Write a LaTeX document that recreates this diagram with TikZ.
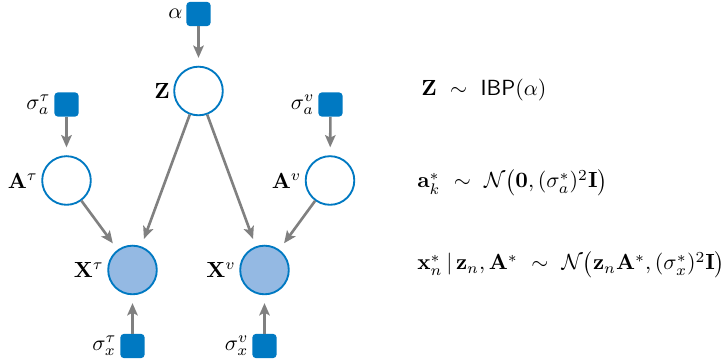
\documentclass[tikz,border=0pt]{standalone}
\usepackage{amsmath,amssymb}
\usetikzlibrary{arrows.meta}
\definecolor{pblue}{HTML}{0079C2}
\definecolor{pfill}{HTML}{94B9E3}
\definecolor{pgray}{HTML}{808080}
\begin{document}
\begin{tikzpicture}[x=0.4566pt,y=-0.4566pt,
  latent/.style={circle,draw=pblue,line width=0.85pt,fill=white,minimum size=22.2pt,inner sep=0pt},
  observed/.style={latent,fill=pfill},
  param/.style={rectangle,rounded corners=1.5pt,fill=pblue,minimum size=11pt,inner sep=0pt},
  lab/.style={label={[inner sep=0.6pt,label distance=0.8pt]left:#1}},
  edge/.style={draw=pgray,line width=1.2pt,-{Stealth[length=5.6pt,width=4.8pt,inset=1.2pt]},shorten >=3.6pt},
  eq/.style={anchor=base west,inner sep=0pt}]
\useasboundingbox (0,0) rectangle (724,364);
% nodes
\node[param,lab={$\alpha$}] (alpha) at (198.5,14) {};
\node[latent,lab={$\mathbf{Z}$}] (Z) at (198.5,91) {};
\node[param,lab={$\sigma_a^\tau$}] (sat) at (66.5,104.5) {};
\node[latent,lab={$\mathbf{A}^\tau$}] (At) at (66.5,180.5) {};
\node[param,lab={$\sigma_a^v$}] (sav) at (330.5,104.5) {};
\node[latent,lab={$\mathbf{A}^v$}] (Av) at (330,180.5) {};
\node[observed,lab={$\mathbf{X}^\tau$}] (Xt) at (132.5,270) {};
\node[observed,lab={$\mathbf{X}^v$}] (Xv) at (264.5,270) {};
\node[param,lab={$\sigma_x^\tau$}] (sxt) at (132.5,346) {};
\node[param,lab={$\sigma_x^v$}] (sxv) at (264.5,346) {};
% edges
\draw[edge] (alpha) -- (Z);
\draw[edge] (sat) -- (At);
\draw[edge] (sav) -- (Av);
\draw[edge] (Z) -- (Xt);
\draw[edge] (Z) -- (Xv);
\draw[edge] (At) -- (Xt);
\draw[edge] (Av) -- (Xv);
\draw[edge] (sxt) -- (Xt);
\draw[edge] (sxv) -- (Xv);
% equations
\node[eq] (eq1) at (421,96) {$\mathbf{Z}\ \sim\ \mathsf{IBP}(\alpha)$};
\node[eq] (eq2) at (417,188) {$\mathbf{a}_k^*\ \sim\ \mathcal{N}\big(\mathbf{0},(\sigma_a^*)^2\mathbf{I}\big)$};
\node[eq] (eq3) at (417,270) {$\mathbf{x}_n^*\,|\,\mathbf{z}_n,\mathbf{A}^*\ \sim\ \mathcal{N}\big(\mathbf{z}_n\mathbf{A}^*,(\sigma_x^*)^2\mathbf{I}\big)$};
\end{tikzpicture}
\end{document}
